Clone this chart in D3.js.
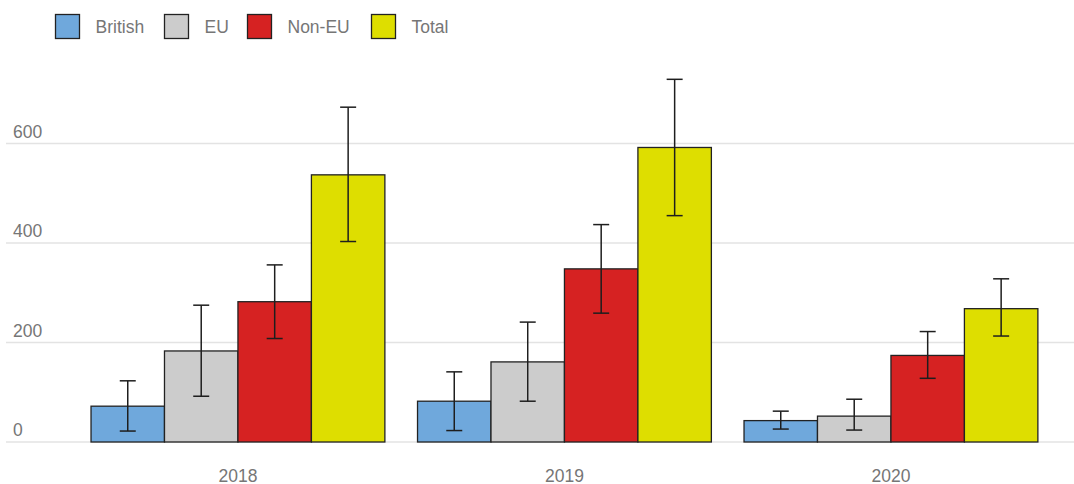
<!DOCTYPE html>
<html>
<head>
<meta charset="utf-8">
<script src="https://cdn.jsdelivr.net/npm/d3@7"></script>
<style>
  html, body { margin: 0; padding: 0; background: #fff; }
  svg { display: block; font-family: "Liberation Sans", Arial, sans-serif; }
</style>
</head>
<body>
<svg id="chart" width="1074" height="484"></svg>
<script>
// Years along the x axis and the groups drawn within each year
const years = ["2018", "2019", "2020"];
const groups = ["British", "EU", "Non-EU", "Total"];
const groupColors = ["#6fa8dc", "#cccccc", "#d62222", "#dede00"];

// Estimates per group, one entry per year
const british = [72, 82, 43];
const eu = [183, 161, 52];
const nonEu = [282, 348, 174];
const total = [537, 592, 268];

// Lower and upper bounds of the intervals
const britishLow = [22, 23, 26];
const britishHigh = [123, 141, 62];
const euLow = [92, 82, 24];
const euHigh = [275, 241, 86];
const nonEuLow = [208, 259, 128];
const nonEuHigh = [356, 437, 222];
const totalLow = [403, 455, 213];
const totalHigh = [673, 729, 328];

const yTicks = [0, 200, 400, 600];

const values = [british, eu, nonEu, total];
const lows = [britishLow, euLow, nonEuLow, totalLow];
const highs = [britishHigh, euHigh, nonEuHigh, totalHigh];

const rows = [];
years.forEach((yr, i) => {
  groups.forEach((g, j) => {
    rows.push({ year: yr, group: g, value: values[j][i], low: lows[j][i], high: highs[j][i], color: groupColors[j] });
  });
});

const svg = d3.select("#chart");
const W = 1074, H = 484;

const x = d3.scaleBand().domain(years).range([74.7, 1054.2]).paddingInner(0.1).paddingOuter(0.05);
const xg = d3.scaleBand().domain(groups).range([0, x.bandwidth()]);
const y = d3.scaleLinear().domain([0, 600]).range([442, 143.5]);

const textColor = "#767676";

// Horizontal grid lines with labels sitting above them
const grid = svg.append("g");
grid.selectAll("line").data(yTicks).join("line")
  .attr("x1", 6).attr("x2", W)
  .attr("y1", d => y(d)).attr("y2", d => y(d))
  .attr("stroke", "#e3e3e3").attr("stroke-width", 1.6);
grid.selectAll("text").data(yTicks).join("text")
  .attr("x", 13).attr("y", d => y(d) - 6)
  .attr("fill", textColor).attr("font-size", 17.5)
  .text(d => d);

// Bars
const bars = svg.append("g");
bars.selectAll("rect").data(rows).join("rect")
  .attr("x", d => x(d.year) + xg(d.group))
  .attr("width", xg.bandwidth())
  .attr("y", d => y(d.value))
  .attr("height", d => y(0) - y(d.value))
  .attr("fill", d => d.color)
  .attr("stroke", "#222").attr("stroke-width", 1.3);

// Error bars
const capW = 16;
const eb = svg.append("g").attr("stroke", "#1e1e1e").attr("stroke-width", 1.5);
rows.forEach(d => {
  const cx = x(d.year) + xg(d.group) + xg.bandwidth() / 2;
  eb.append("line").attr("x1", cx).attr("x2", cx).attr("y1", y(d.low)).attr("y2", y(d.high));
  eb.append("line").attr("x1", cx - capW / 2).attr("x2", cx + capW / 2).attr("y1", y(d.low)).attr("y2", y(d.low));
  eb.append("line").attr("x1", cx - capW / 2).attr("x2", cx + capW / 2).attr("y1", y(d.high)).attr("y2", y(d.high));
});

// X axis labels
const xAxis = svg.append("g").attr("transform", "translate(0,481.5)")
  .call(d3.axisBottom(x).tickSize(0).tickPadding(0));
xAxis.select(".domain").remove();
xAxis.selectAll("text")
  .attr("y", 0).attr("dy", 0)
  .attr("fill", textColor).attr("font-size", 17.5)
  .attr("font-family", "Liberation Sans, Arial, sans-serif");

// Legend
const legendX = [55, 164, 247, 371];
const legend = svg.append("g");
groups.forEach((g, j) => {
  const lg = legend.append("g").attr("transform", `translate(${legendX[j]},14)`);
  lg.append("rect").attr("x", 0.5).attr("y", 0.5).attr("width", 24).attr("height", 24)
    .attr("fill", groupColors[j]).attr("stroke", "#222").attr("stroke-width", 1.3);
  lg.append("text").attr("x", 40.5).attr("y", 18.5)
    .attr("fill", textColor).attr("font-size", 17.5).text(g);
});
</script>
</body>
</html>
